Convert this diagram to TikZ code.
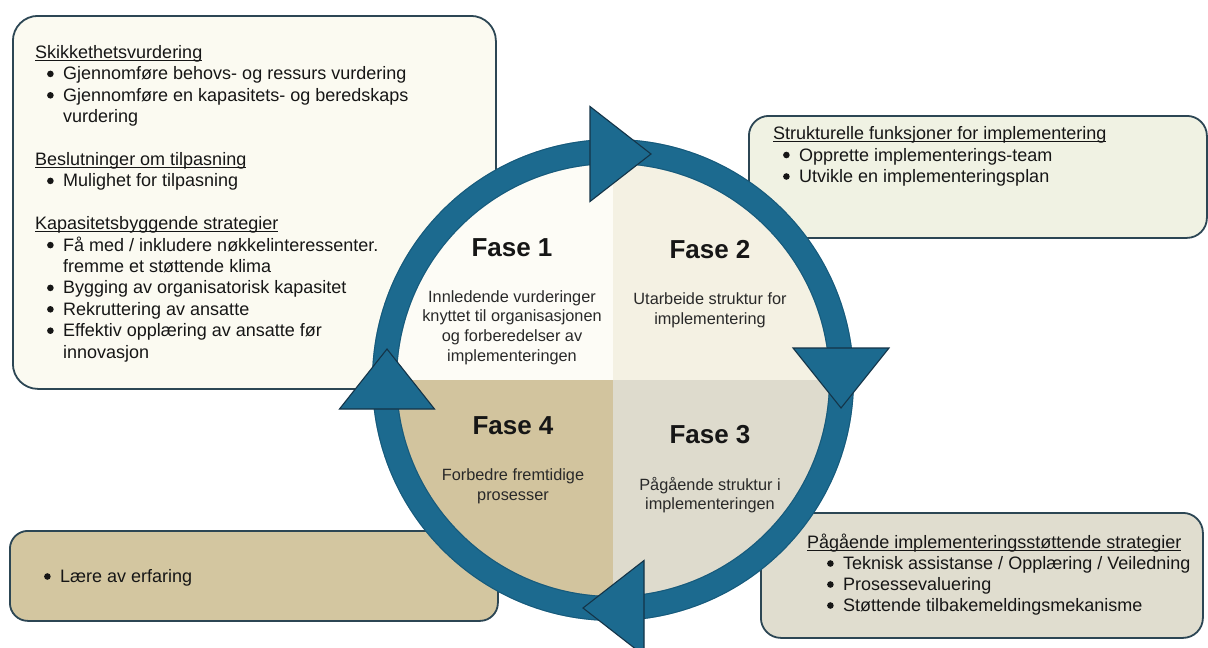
\documentclass[tikz,border=0pt]{standalone}
\usepackage{fontspec}
\setmainfont{Liberation Sans}

\definecolor{ringblue}{RGB}{28,106,143}
\definecolor{ringedge}{RGB}{20,80,110}
\definecolor{tribord}{RGB}{20,52,72}
\definecolor{qone}{RGB}{253,252,246}
\definecolor{qtwo}{RGB}{244,241,227}
\definecolor{qthree}{RGB}{222,219,205}
\definecolor{qfour}{RGB}{210,196,158}
\definecolor{boxone}{RGB}{251,250,241}
\definecolor{boxtwo}{RGB}{240,242,227}
\definecolor{boxthree}{RGB}{224,221,207}
\definecolor{boxfour}{RGB}{211,198,160}
\definecolor{boxline}{RGB}{44,70,84}
\definecolor{ink}{RGB}{22,22,22}

% underlined heading with the rule just under the baseline
\newsavebox\hdbox
\newcommand\ulhead[1]{\sbox\hdbox{#1}\rlap{\rule[-2.6pt]{\wd\hdbox}{1pt}}\usebox\hdbox}
% bulleted line: name, x, y (baseline), text; the dot sits in a 17pt indent
\newcommand\bline[4]{%
  \node[linetxt] (#1) at (#2,#3) {\hspace*{17pt}#4};
  \fill[ink] ([xshift=4.4pt,yshift=6pt]#1.base west) circle (3.3pt);}

\begin{document}
\begin{tikzpicture}[x=1pt,y=-1pt,
  infobox/.style={draw=boxline, line width=1.8pt, inner sep=0pt, anchor=north west},
  linetxt/.style={anchor=base west, inner sep=0pt, text=ink, font=\fontsize{18}{21}\selectfont},
  fasehd/.style={anchor=base, inner sep=0pt, text=ink, font=\fontsize{26}{30}\selectfont\bfseries},
  fasebody/.style={anchor=base, inner sep=0pt, text=ink!92, font=\fontsize{16.3}{19}\selectfont},
  tri/.style={fill=ringblue, draw=tribord, line width=1.1pt, line join=miter}]

\useasboundingbox (0,0) rectangle (1208,648);
\fill[white] (0,0) rectangle (1208,648);

% ---- side boxes ----
\node[infobox, fill=boxone, rounded corners=25pt, minimum width=483pt, minimum height=373pt] (boxA) at (12,15) {};
\node[infobox, fill=boxtwo, rounded corners=20pt, minimum width=458pt, minimum height=122pt] (boxB) at (748,115) {};
\node[infobox, fill=boxthree, rounded corners=20pt, minimum width=442pt, minimum height=125pt] (boxC) at (760,512) {};
\node[infobox, fill=boxfour, rounded corners=18pt, minimum width=488pt, minimum height=90pt] (boxD) at (9,530) {};

% texts of the upper left box
\node[linetxt] (a1) at (35,58.5) {\ulhead{Skikkethetsvurdering}};
\bline{a2}{46}{79.9}{Gjennomføre behovs- og ressurs vurdering}
\bline{a3}{46}{101.3}{Gjennomføre en kapasitets- og beredskaps}
\node[linetxt] (a4) at (63,122.7) {vurdering};
\node[linetxt] (a5) at (35,165.5) {\ulhead{Beslutninger om tilpasning}};
\bline{a6}{46}{186.9}{Mulighet for tilpasning}
\node[linetxt] (a7) at (35,229.7) {\ulhead{Kapasitetsbyggende strategier}};
\bline{a8}{46}{251.1}{Få med / inkludere nøkkelinteressenter.}
\node[linetxt] (a9) at (63,272.5) {fremme et støttende klima};
\bline{a10}{46}{293.9}{Bygging av organisatorisk kapasitet}
\bline{a11}{46}{315.3}{Rekruttering av ansatte}
\bline{a12}{46}{336.7}{Effektiv opplæring av ansatte før}
\node[linetxt] (a13) at (63,358.1) {innovasjon};

% texts of the upper right box
\node[linetxt] (b1) at (773,139) {\ulhead{Strukturelle funksjoner for implementering}};
\bline{b2}{782}{161}{Opprette implementerings-team}
\bline{b3}{782}{182.5}{Utvikle en implementeringsplan}

% texts of the lower right box
\node[linetxt] (c1) at (807,548.5) {\ulhead{Pågående implementeringsstøttende strategier}};
\bline{c2}{826}{569.5}{Teknisk assistanse / Opplæring / Veiledning}
\bline{c3}{826}{590.5}{Prosessevaluering}
\bline{c4}{826}{611.5}{Støttende tilbakemeldingsmekanisme}

% text of the lower left box
\bline{d1}{43}{582.5}{Lære av erfaring}

% ---- phase circle ----
\begin{scope}
  \clip (613,380) circle (229pt);
  \fill[qone]   (380,140) rectangle (613,380);
  \fill[qtwo]   (613,140) rectangle (850,380);
  \fill[qthree] (613,380) rectangle (850,620);
  \fill[qfour]  (380,380) rectangle (613,620);
\end{scope}
\node[circle, draw=ringblue, line width=25pt, minimum size=457pt, inner sep=0pt] (ring) at (613,380) {};
\draw[ringedge, line width=1pt, opacity=0.6] (613,380) circle (240.5pt);
\draw[ringedge, line width=1pt, opacity=0.6] (613,380) circle (216.5pt);

% direction arrows on the ring
\draw[tri] (590,106.5) -- (651,154) -- (590,201.5) -- cycle;
\draw[tri] (793,348) -- (889,348) -- (841,408) -- cycle;
\draw[tri] (644,560.5) -- (583,608) -- (644,655.5) -- cycle;
\draw[tri] (339.5,409) -- (387,349) -- (434.5,409) -- cycle;

% phase titles and descriptions
\node[fasehd] (f1) at (512,256.3) {Fase 1};
\node[fasehd] (f2) at (710,258.3) {Fase 2};
\node[fasehd] (f3) at (710,443.3) {Fase 3};
\node[fasehd] (f4) at (513,434.3) {Fase 4};

\node[fasebody] (f1a) at (512,302) {Innledende vurderinger};
\node[fasebody] (f1b) at (512,321.7) {knyttet til organisasjonen};
\node[fasebody] (f1c) at (512,341.4) {og forberedelser av};
\node[fasebody] (f1d) at (512,361.1) {implementeringen};

\node[fasebody] (f2a) at (710,304.5) {Utarbeide struktur for};
\node[fasebody] (f2b) at (710,324) {implementering};

\node[fasebody] (f3a) at (710,490) {Pågående struktur i};
\node[fasebody] (f3b) at (710,509.5) {implementeringen};

\node[fasebody] (f4a) at (513,480) {Forbedre fremtidige};
\node[fasebody] (f4b) at (513,500) {prosesser};
\end{tikzpicture}
\end{document}
